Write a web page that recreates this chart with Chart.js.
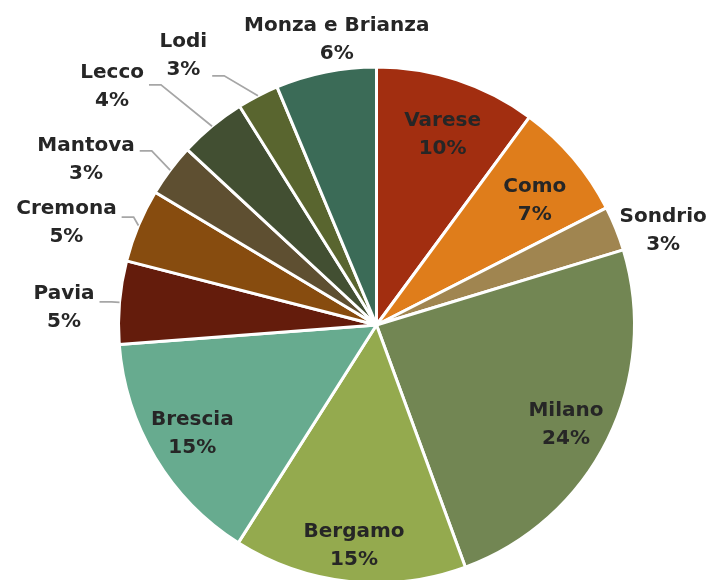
<!DOCTYPE html>
<html>
<head>
<meta charset="utf-8">
<script src="https://cdn.jsdelivr.net/npm/chart.js@4/dist/chart.umd.min.js"></script>
<style>
  html, body { margin: 0; padding: 0; background: #fff; overflow: hidden; }
  #wrap { width: 709px; height: 580px; overflow: hidden; }
</style>
</head>
<body>
<div id="wrap"><canvas id="pieChart" width="709" height="650"></canvas></div>
<script>
// Province shares (percent), read clockwise from 12 o'clock
var provinces = ['Varese', 'Como', 'Sondrio', 'Milano', 'Bergamo', 'Brescia',
                 'Pavia', 'Cremona', 'Mantova', 'Lecco', 'Lodi', 'Monza e Brianza'];
var shares = [10.1, 7.4, 2.8, 24.1, 14.6, 14.8, 5.2, 4.6, 3.3, 4.2, 2.6, 6.3];
var sliceColors = ['#a22e10', '#df7d1b', '#a08550', '#728653', '#94aa4e', '#67ab8f',
                   '#641c0c', '#874c0f', '#5e4f31', '#424f32', '#59652f', '#3b6b57'];

// label placement: radial factor of outer radius, angle shift (deg) from slice middle,
// leader = draw callout line, attachDy = where the callout leaves the label block
var labelPlacement = [
  { r: 0.78, da: 1.0 },
  { r: 0.78, da: 2.2 },
  { r: 1.17, da: 3.7 },
  { r: 0.83, da: 1.3 },
  { r: 0.86, da: -0.3 },
  { r: 0.83, da: 0.3 },
  { r: 1.213, da: -1.9, leader: true, attachDy: -6 },
  { r: 1.265, da: -4.5, leader: true, attachDy: -6 },
  { r: 1.295, da: -7.3, leader: true, attachDy: -9 },
  { r: 1.379, da: -8.4, leader: true, attachDy: -2 },
  { r: 1.284, da: -8.3, leader: true, attachDy: 20 },
  { r: 1.115, da: 3.4 }
];

(function(){
  var el = document.getElementById('pieChart');
  var textColor = '#262626';
  var leaderColor = '#a6a6a6';
  var lineH = 28;

  var pieLabelsPlugin = {
    id: 'pieLabels',
    afterDatasetsDraw: function(chart){
      var ctx = chart.ctx;
      var meta = chart.getDatasetMeta(0);
      var total = shares.reduce(function(a, b){ return a + b; }, 0);
      ctx.save();
      ctx.font = 'bold 20px "DejaVu Sans", sans-serif';
      ctx.textAlign = 'center';
      ctx.textBaseline = 'middle';
      meta.data.forEach(function(arc, i){
        var p = arc.getProps(['x', 'y', 'startAngle', 'endAngle', 'outerRadius'], true);
        var mid = (p.startAngle + p.endAngle) / 2;
        var pl = labelPlacement[i];
        var a = mid + pl.da * Math.PI / 180;
        var cx = p.x + Math.cos(a) * p.outerRadius * pl.r;
        var cy = p.y + Math.sin(a) * p.outerRadius * pl.r;
        var line1 = provinces[i];
        var line2 = Math.round(shares[i] / total * 100) + '%';

        if(pl.leader){
          var w = Math.max(ctx.measureText(line1).width, ctx.measureText(line2).width);
          var sx = cx + w / 2 + 5;
          var sy = cy + pl.attachDy;
          var ex = p.x + Math.cos(mid) * p.outerRadius;
          var ey = p.y + Math.sin(mid) * p.outerRadius;
          ctx.beginPath();
          ctx.moveTo(sx, sy);
          ctx.lineTo(sx + 12, sy);
          ctx.lineTo(ex, ey);
          ctx.strokeStyle = leaderColor;
          ctx.lineWidth = 1.75;
          ctx.stroke();
        }

        ctx.fillStyle = textColor;
        ctx.fillText(line1, cx, cy - lineH / 2);
        ctx.fillText(line2, cx, cy + lineH / 2);
      });
      ctx.restore();
    }
  };

  new Chart(el.getContext('2d'), {
    type: 'pie',
    data: {
      labels: provinces,
      datasets: [{
        data: shares,
        backgroundColor: sliceColors,
        borderColor: '#ffffff',
        borderWidth: 3
      }]
    },
    options: {
      responsive: false,
      animation: false,
      radius: 258,
      layout: { padding: { left: 44, right: 0, top: 0, bottom: 0 } },
      plugins: {
        legend: { display: false },
        tooltip: { enabled: false }
      }
    },
    plugins: [pieLabelsPlugin]
  });
})();
</script>
</body>
</html>
